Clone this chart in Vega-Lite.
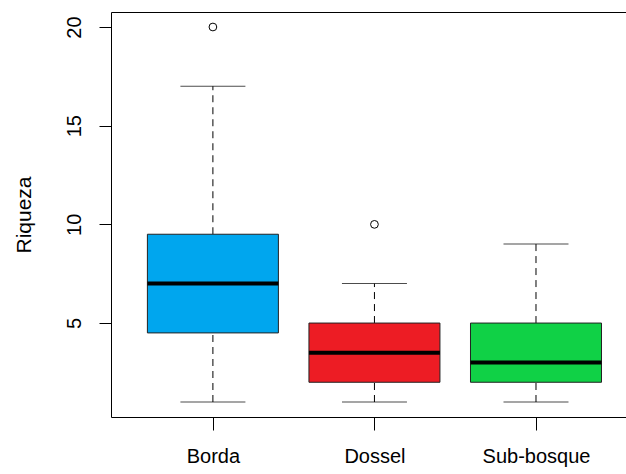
{
  "$schema": "https://vega.github.io/schema/vega-lite/v6.json",
  "autosize": {"type": "none"},
  "padding": {"left": 111, "top": 12, "right": 0, "bottom": 57},
  "width": 515,
  "height": 405,
  "background": "white",
  "config": {
    "view": {"stroke": null},
    "font": "Liberation Sans",
    "axis": {"domainColor": "#000000", "tickColor": "#000000", "labelColor": "#000000", "titleColor": "#000000", "grid": false, "labelFont": "Liberation Sans", "titleFont": "Liberation Sans"}
  },
  "datasets": {
    "stats": [
      {"grupo": "Borda", "lower": 1, "q1": 4.5, "median": 7, "q3": 9.5, "upper": 17},
      {"grupo": "Dossel", "lower": 1, "q1": 2, "median": 3.5, "q3": 5, "upper": 7},
      {"grupo": "Sub-bosque", "lower": 1, "q1": 2, "median": 3, "q3": 5, "upper": 9}
    ],
    "outliers": [
      {"grupo": "Borda", "valor": 20},
      {"grupo": "Dossel", "valor": 10}
    ]
  },
  "resolve": {"axis": {"x": "independent", "y": "independent"}},
  "layer": [
    {
      "data": {"name": "stats"},
      "mark": {"type": "rule", "strokeDash": [7, 5], "color": "#000000", "strokeWidth": 1},
      "encoding": {
        "x": {"field": "grupo", "type": "nominal", "scale": {"type": "point", "domain": ["Borda", "Dossel", "Sub-bosque"], "padding": 0.594, "align": 0.531},
          "axis": {"orient": "bottom", "title": null, "labelAngle": 0, "labelFontSize": 20, "tickSize": 13, "labelPadding": 16, "domainWidth": 1}},
        "y": {"field": "lower", "type": "quantitative", "scale": {"domain": [0.24, 20.76], "nice": false, "zero": false},
          "axis": {"orient": "left", "title": "Riqueza", "values": [5, 10, 15, 20], "labelAngle": -90, "labelFontSize": 20, "tickSize": 12, "labelPadding": 15, "titleFontSize": 21, "titleFontWeight": "normal", "titlePadding": 30}},
        "y2": {"field": "q1"}
      }
    },
    {
      "data": {"name": "stats"},
      "mark": {"type": "rule", "strokeDash": [7, 5], "color": "#000000", "strokeWidth": 1},
      "encoding": {
        "x": {"field": "grupo", "type": "nominal", "axis": {"orient": "top", "title": null, "labels": false, "ticks": false, "domainWidth": 1}},
        "y": {"field": "q3", "type": "quantitative", "axis": null},
        "y2": {"field": "upper"}
      }
    },
    {
      "data": {"name": "stats"},
      "mark": {"type": "tick", "size": 65, "thickness": 1, "color": "#000000"},
      "encoding": {
        "x": {"field": "grupo", "type": "nominal", "axis": null},
        "y": {"field": "lower", "type": "quantitative", "axis": null}
      }
    },
    {
      "data": {"name": "stats"},
      "mark": {"type": "tick", "size": 65, "thickness": 1, "color": "#000000"},
      "encoding": {
        "x": {"field": "grupo", "type": "nominal", "axis": null},
        "y": {"field": "upper", "type": "quantitative", "axis": null}
      }
    },
    {
      "data": {"name": "stats"},
      "mark": {"type": "bar", "width": 131, "stroke": "#222222", "strokeWidth": 1},
      "encoding": {
        "x": {"field": "grupo", "type": "nominal", "axis": null},
        "y": {"field": "q1", "type": "quantitative", "axis": null},
        "y2": {"field": "q3"},
        "fill": {"field": "grupo", "type": "nominal", "scale": {"domain": ["Borda", "Dossel", "Sub-bosque"], "range": ["#00A6EE", "#ED1C24", "#10D146"]}, "legend": null}
      }
    },
    {
      "data": {"name": "stats"},
      "mark": {"type": "tick", "size": 131, "thickness": 4, "color": "#000000", "opacity": 1},
      "encoding": {
        "x": {"field": "grupo", "type": "nominal", "axis": null},
        "y": {"field": "median", "type": "quantitative", "axis": null}
      }
    },
    {
      "data": {"name": "outliers"},
      "mark": {"type": "point", "filled": false, "size": 60, "stroke": "#000000", "strokeWidth": 1, "opacity": 1},
      "encoding": {
        "x": {"field": "grupo", "type": "nominal", "axis": null},
        "y": {"field": "valor", "type": "quantitative", "axis": null}
      }
    }
  ]
}
